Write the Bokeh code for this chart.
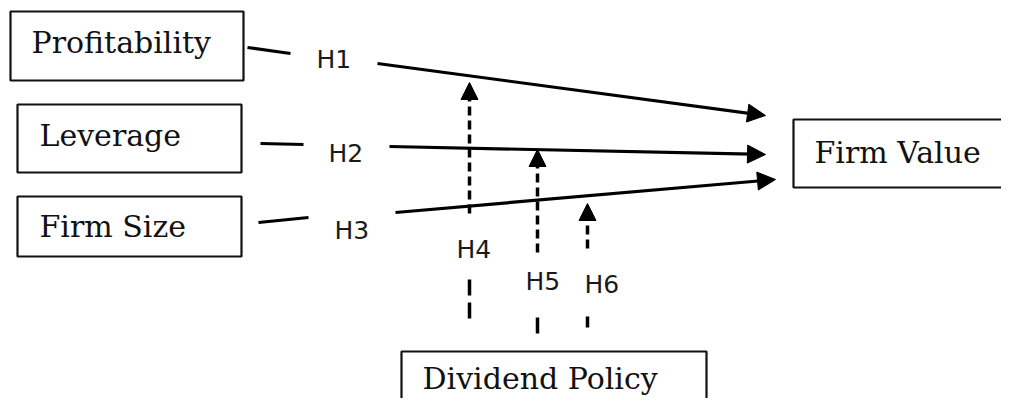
from bokeh.plotting import figure
from bokeh.models import ColumnDataSource, Range1d, Arrow, NormalHead
from bokeh.core.properties import value
from bokeh.embed import file_html
from bokeh.resources import INLINE

# ---- diagram data (coordinates in picture pixels, y downward) ----
box_labels = ["Profitability", "Leverage", "Firm Size", "Firm Value", "Dividend Policy"]
box_left = [10, 17, 17, 793, 401]
box_right = [243, 241, 241, 1030, 706]
box_top = [11, 104, 196, 119, 351]
box_bottom = [80, 172, 256, 187, 413]
label_x = [31, 39, 39, 814, 422]
label_y = [42, 135, 226, 152, 378]

hyp_labels = ["H1", "H2", "H3", "H4", "H5", "H6"]
hyp_x = [316, 328, 334, 456, 525, 584]
hyp_y = [59, 153, 230, 249, 281, 284]

# short solid stubs leaving the predictor boxes
stub_x0 = [247, 260, 258]
stub_y0 = [47, 143, 222]
stub_x1 = [290, 303, 308]
stub_y1 = [53, 144, 217]

# direct effect arrows (H1-H3)
direct_x0 = [377, 389, 395]
direct_y0 = [63, 146, 212]
direct_x1 = [765, 765, 775]
direct_y1 = [115, 154, 179]

# moderation arrows (H4-H6), dashed
mod_x = [469, 537, 587]
mod_y0 = [213, 252, 248]
mod_y1 = [82, 149, 203]
# lower dashed pieces below the labels
low_y0 = [279, 317, 316]
low_y1 = [325, 333, 327]

W, H = 1001, 398
p = figure(width=W, height=H, output_backend="svg", toolbar_location=None,
           x_axis_type=None, y_axis_type=None, min_border=0,
           x_range=Range1d(0, W), y_range=Range1d(H, 0))
p.grid.visible = False
p.outline_line_color = None
p.background_fill_color = "white"
p.border_fill_color = "white"

box_src = ColumnDataSource(dict(left=box_left, right=box_right, top=box_top,
                                bottom=box_bottom, label=box_labels, lx=label_x, ly=label_y))
p.quad(left="left", right="right", top="top", bottom="bottom", source=box_src,
       fill_color="white", line_color="#111111", line_width=2.2)
p.text(x="lx", y="ly", text="label", source=box_src,
       text_font=value("DejaVu Serif"), text_font_size=value("30px"),
       text_baseline="alphabetic", text_align="left", text_color="#111111")

hyp_src = ColumnDataSource(dict(x=hyp_x, y=hyp_y, t=hyp_labels))
p.text(x="x", y="y", text="t", source=hyp_src,
       text_font=value("DejaVu Sans"), text_font_size=value("25px"),
       text_baseline="alphabetic", text_align="left", text_color="#1a1a1a")

p.segment(x0=stub_x0, y0=stub_y0, x1=stub_x1, y1=stub_y1,
          line_color="black", line_width=3.2)

dir_src = ColumnDataSource(dict(x0=direct_x0, y0=direct_y0, x1=direct_x1, y1=direct_y1))
p.add_layout(Arrow(end=NormalHead(size=18, fill_color="black", line_color="black", line_width=1),
                   x_start="x0", y_start="y0", x_end="x1", y_end="y1", source=dir_src,
                   line_color="black", line_width=3.2))

mod_src = ColumnDataSource(dict(x=mod_x, y0=mod_y0, y1=mod_y1))
p.add_layout(Arrow(end=NormalHead(size=17, fill_color="black", line_color="black", line_width=1),
                   x_start="x", y_start="y0", x_end="x", y_end="y1", source=mod_src,
                   line_color="black", line_width=3.5, line_dash="9 5"))

p.segment(x0=mod_x, y0=low_y0, x1=mod_x, y1=low_y1,
          line_color="black", line_width=3.5, line_dash="16 7")

open("out.html", "w").write(file_html(p, INLINE))
